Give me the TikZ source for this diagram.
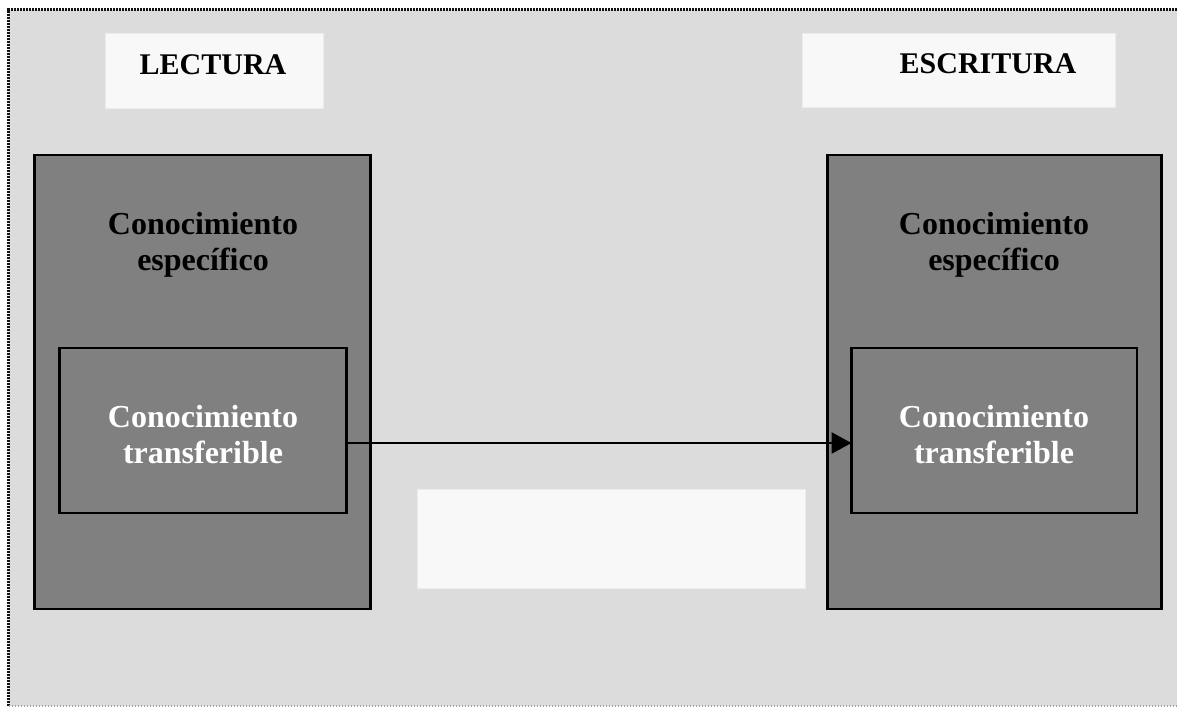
\documentclass[tikz,border=0pt]{standalone}
\usepackage{fontspec}
\setmainfont{Liberation Serif}
\usetikzlibrary{arrows.meta}

\definecolor{panelbg}{HTML}{DCDCDC}
\definecolor{blockfill}{HTML}{808080}
\definecolor{labelfill}{HTML}{F8F8F8}
\definecolor{labeledge}{HTML}{ECECEC}
\definecolor{frameline}{HTML}{111111}
\definecolor{framelow}{HTML}{A0A0A0}

\tikzset{
  block/.style={draw=black, line width=2.6pt, fill=blockfill, inner sep=0pt, outer sep=0pt},
  labelbox/.style={draw=labeledge, line width=1pt, fill=labelfill, inner sep=0pt},
  headtext/.style={font=\fontsize{30}{34}\selectfont\bfseries, text=black, inner sep=0pt},
  blocktext/.style={font=\fontsize{32}{36}\selectfont\bfseries, align=center, inner sep=0pt},
  link/.style={line width=2.6pt, -{Triangle[length=20pt,width=21pt]}},
}

\begin{document}
\begin{tikzpicture}[x=1pt, y=-1pt]
  \useasboundingbox (0,0) rectangle (1177,707);

  % panel background and its dotted frame
  \fill[panelbg] (8.5,9.5) rectangle (1177,706);
  \draw[frameline, line width=2.2pt, dash pattern=on 1.6pt off 1.4pt]
    (1177,9.5) -- (8.5,9.5) -- (8.5,706);
  \draw[framelow, line width=1.2pt, dash pattern=on 1.6pt off 1.4pt]
    (8.5,706) -- (1177,706);

  % heading labels
  \node[labelbox, minimum width=218pt, minimum height=75pt] (lbl) at (214,70.5) {};
  \node[labelbox, minimum width=313pt, minimum height=74pt] (rbl) at (958.5,70) {};
  \node[headtext, anchor=base] (lhead) at (213,74) {LECTURA};
  \node[headtext, anchor=base] (rhead) at (988,73) {ESCRITURA};

  % empty label between the two blocks
  \node[labelbox, minimum width=388pt, minimum height=99pt] (mid) at (611,538.5) {};

  % outer blocks: specific knowledge
  \node[block, minimum width=336pt, minimum height=454pt] (lout) at (202.5,382) {};
  \node[block, minimum width=334pt, minimum height=454pt] (rout) at (994.5,382) {};
  \node[blocktext, text=black] (ltop) at (203,245) {Conocimiento\\específico};
  \node[blocktext, text=black] (rtop) at (994,245) {Conocimiento\\específico};

  % inner blocks: transferable knowledge
  \node[block, minimum width=287pt, minimum height=165pt] (lin) at (202.75,430.5) {};
  \node[block, minimum width=285.5pt, minimum height=165pt] (rin) at (994.25,430.5) {};
  \node[blocktext, text=white] (lintext) at (203,435) {Conocimiento\\transferible};
  \node[blocktext, text=white] (rintext) at (994,435) {Conocimiento\\transferible};

  % transfer from reading to writing
  \draw[link] ([yshift=-12.5pt]lin.east) -- ([yshift=-12.5pt]rin.west);
\end{tikzpicture}
\end{document}
